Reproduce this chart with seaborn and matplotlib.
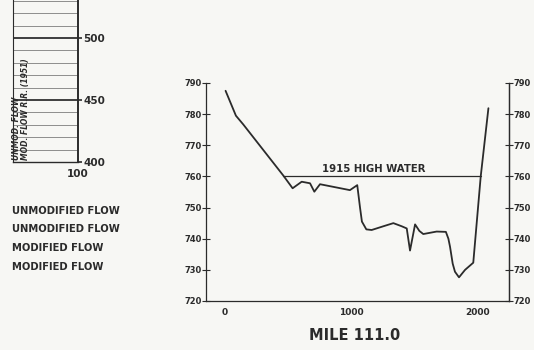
import matplotlib
matplotlib.use("Agg")
import matplotlib.pyplot as plt
import seaborn as sns
import pandas as pd

# Ground profile across the valley at mile 111.0 (station ft, elevation ft)
station = [5, 87, 145, 462, 536, 608, 674, 708, 753, 990, 1048, 1070, 1085,
           1120, 1162, 1255, 1334, 1400, 1440, 1466, 1506, 1540, 1571, 1677,
           1750, 1770, 1783, 1804, 1822, 1854, 1902, 1967, 2026, 2087]
elevation = [787.5, 779.5, 776.7, 760.3, 756.2, 758.3, 757.8, 755.1, 757.5,
             755.6, 757.2, 750.0, 745.5, 743.0, 742.8, 744.0, 745.0, 744.0,
             743.3, 736.2, 744.6, 742.5, 741.5, 742.3, 742.2, 740.0, 737.4,
             732.0, 729.4, 727.6, 730.0, 732.3, 760.0, 781.9]

# 1915 high water level and its extent across the section
hw_station = [462, 2026]
hw_elevation = [760, 760]
hw_label = "1915 HIGH WATER"

x_ticks = [0, 1000, 2000]
y_ticks = [720, 730, 740, 750, 760, 770, 780, 790]
x_title = "MILE 111.0"

# Neighbouring panel on the left edge of the sheet
side_ticks = [400, 450, 500]
side_grid = list(range(400, 531, 10))
side_xlabel = "100"
side_notes = ["UNMODIFIED FLOW", "UNMODIFIED FLOW", "MODIFIED FLOW", "MODIFIED FLOW"]

sns.set_theme(style="white")
plt.rcParams["font.family"] = ["DejaVu Sans"]
ink = "#2b2b2b"
paper = "#f7f7f4"

fig = plt.figure(figsize=(5.34, 3.5), dpi=100, facecolor=paper)
W, H = 534, 350


def fx(px):
    return px / W


def fy(py):
    return 1 - py / H


# ---- main cross-section ----
ax = fig.add_axes([fx(206), fy(301), fx(509) - fx(206), fy(83) - fy(301)])
ax.set_facecolor(paper)
prof = pd.DataFrame({"station": station, "elevation": elevation})
sns.lineplot(data=prof, x="station", y="elevation", sort=False, estimator=None,
             color=ink, lw=1.3, ax=ax)
hw = pd.DataFrame({"station": hw_station, "elevation": hw_elevation})
sns.lineplot(data=hw, x="station", y="elevation", sort=False, estimator=None,
             color=ink, lw=0.9, ax=ax)
ax.text(1175, 760.8, hw_label, ha="center", va="bottom", fontsize=7.3,
        fontweight="bold", color=ink)

ax.set_xlim(-150, 2250)
ax.set_ylim(720, 790)
ax.set_xticks(x_ticks)
ax.set_yticks(y_ticks)
ax.set_xlabel("")
ax.set_ylabel("")
ax.spines["top"].set_visible(False)
for s in ["left", "bottom", "right"]:
    ax.spines[s].set_color(ink)
    ax.spines[s].set_linewidth(0.9)
ax.tick_params(axis="y", direction="inout", length=6, width=0.8, color=ink,
               labelsize=6, labelcolor=ink, pad=0)
ax.tick_params(axis="x", direction="in", length=4, width=0.8, color=ink,
               labelsize=6.5, labelcolor=ink, pad=5)
for t in ax.get_xticklabels() + ax.get_yticklabels():
    t.set_fontweight("bold")

axr = ax.twinx()
axr.set_ylim(720, 790)
axr.set_yticks(y_ticks)
axr.spines["top"].set_visible(False)
axr.spines["left"].set_visible(False)
axr.spines["bottom"].set_visible(False)
axr.spines["right"].set_color(ink)
axr.spines["right"].set_linewidth(0.9)
axr.tick_params(axis="y", direction="inout", length=6, width=0.8, color=ink,
                labelsize=6, labelcolor=ink, pad=0)
for t in axr.get_yticklabels():
    t.set_fontweight("bold")
axr.grid(False)

fig.text(fx(355), fy(336), x_title, ha="center", va="center", fontsize=10.5,
         fontweight="bold", color=ink)

# ---- side panel ----
axs = fig.add_axes([fx(13), fy(162), fx(78) - fx(13), fy(0) - fy(162)])
axs.set_facecolor(paper)
axs.set_xlim(0, 100)
axs.set_ylim(400, 530.6)
for g in side_grid:
    lw = 1.4 if g in (450, 500) else 0.6
    axs.axhline(g, color=ink, lw=lw, alpha=0.9 if lw > 1 else 0.6)
axs.yaxis.tick_right()
axs.set_yticks(side_ticks)
axs.set_xticks([100])
axs.set_xticklabels([side_xlabel])
axs.tick_params(axis="y", direction="out", length=3, width=1.2, color=ink,
                labelsize=7.5, labelcolor=ink, pad=1)
axs.tick_params(axis="x", length=0, labelsize=7.5, labelcolor=ink, pad=5)
for t in axs.get_xticklabels() + axs.get_yticklabels():
    t.set_fontweight("bold")
axs.spines["top"].set_visible(False)
for s in ["left", "bottom", "right"]:
    axs.spines[s].set_color(ink)
axs.spines["right"].set_linewidth(1.4)
axs.spines["left"].set_linewidth(0.8)
axs.spines["bottom"].set_linewidth(1.0)
axs.text(6, 402, "UNMOD. FLOW", rotation=90, ha="center", va="bottom",
         fontsize=5.5, fontweight="bold", color=ink, style="italic")
axs.text(20, 402, "MOD. FLOW R.R. (1951)", rotation=90, ha="center",
         va="bottom", fontsize=5.5, fontweight="bold", color=ink,
         style="italic")

for py, note in zip([211, 229, 248, 267], side_notes):
    fig.text(fx(12), fy(py), note, ha="left", va="center", fontsize=7.2,
             fontweight="bold", color=ink)

fig.savefig("out.png", dpi=100, facecolor=paper)
